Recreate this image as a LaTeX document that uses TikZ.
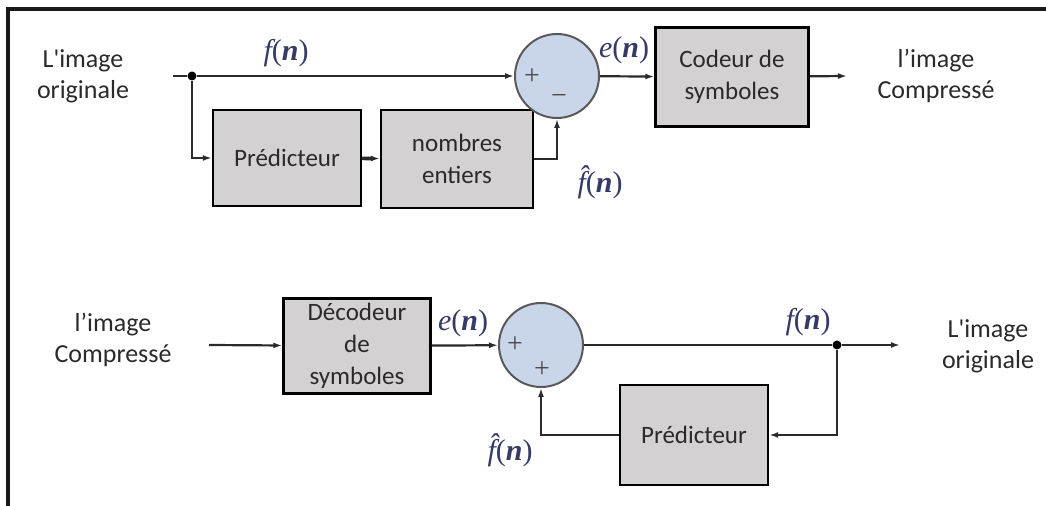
\documentclass[tikz,border=0pt]{standalone}
\usepackage{fontspec}
\setmainfont{Carlito}[Ligatures=TeXOff]
\newfontfamily\sigfont{Liberation Serif}
\usepackage{tikz}
\usetikzlibrary{arrows.meta}

\definecolor{boxgray}{HTML}{D3D1D1}
\definecolor{sumblue}{HTML}{C9D6E9}
\definecolor{sigblue}{HTML}{353B66}
\definecolor{inkgray}{HTML}{2A2A2A}

% signal names in serif italic
\newcommand{\sig}[1]{{\sigfont\fontsize{15}{15}\selectfont\color{sigblue}\itshape #1}}
\newcommand{\sigarg}{\sig{\upshape(}\sig{\bfseries n}\sig{\upshape)}}

\begin{document}
\begin{tikzpicture}[x=0.5pt, y=-0.5pt,
		every node/.append style={font=\fontsize{12.5}{15.5}\selectfont, text=inkgray}]
	\useasboundingbox (0,0) rectangle (1046,506);
	% page frame
	\draw[line width=1.6pt, black!90] (8,506) -- (8,9) -- (1046,9);

	\begin{scope}[every node/.style = {rectangle, draw=black, line width=1.2pt, fill=boxgray,
			align=center, inner sep=1pt, text=inkgray,
			font=\fontsize{12.5}{16}\selectfont}]
		\node[minimum width=74pt, minimum height=48pt] (predA) at (287,158) {Prédicteur};
		\node[minimum width=76pt, minimum height=49pt] (roundA) at (457,159) {nombres\\entiers};
		\node[minimum width=76.5pt, minimum height=49.5pt] (coder) at (732,77) {Codeur de\\symboles};
		\node[minimum width=73.5pt, minimum height=47.5pt] (decoder) at (357,346) {Décodeur\\de\\symboles};
		\node[minimum width=74pt, minimum height=50pt] (predB) at (694,435) {Prédicteur};
	\end{scope}

	\begin{scope}[every node/.style = {circle, draw=black!65, line width=1pt,
			fill=sumblue, minimum size=42pt, inner sep=0pt}]
		\node (sumA) at (557,76) {};
		\node (sumB) at (541,345) {};
	\end{scope}

	% signs inside the adders
	\begin{scope}[every node/.style = {inner sep=0pt, text=black!70,
			font=\sigfont\fontsize{14}{14}\selectfont}]
		\node (plusA) at (532,77) {+};
		\node (minusA) at (559,100) {−};
		\node (plusB) at (515,345) {+};
		\node (plusC) at (542,370) {+};
	\end{scope}

	% junctions and free ends
	\begin{scope}[every node/.style = {circle, fill=black, inner sep=0pt, minimum size=4.5pt}]
		\node (splitA) at (192,76) {};
		\node (splitB) at (837,345) {};
	\end{scope}
	\coordinate (startA) at (173,76);
	\coordinate (endA) at (847,76);
	\coordinate (startB) at (209,345);
	\coordinate (endB) at (900,345);

	% texts
	\begin{scope}[every node/.style = {align=center, text=inkgray,
			font=\fontsize{13}{15.5}\selectfont}]
		\node (inA) at (83,76) {L'image\\originale};
		\node (outA) at (936,76) {l’image\\Compressé};
		\node (inB) at (113,340) {l’image\\Compressé};
		\node (outB) at (988,346) {L'image\\originale};
	\end{scope}
	\begin{scope}[every node/.style = {inner sep=0pt}]
		\node (fA) at (286,53) {\sig{f}\sigarg};
		\node (eA) at (624,50) {\sig{e}\sigarg};
		\node (fhatA) at (600,182) {\sig{\^{f}}\sigarg};
		\node (eB) at (463,323) {\sig{e}\sigarg};
		\node (fB) at (808,322) {\sig{f}\sigarg};
		\node (fhatB) at (510,450) {\sig{\^{f}}\sigarg};
	\end{scope}

	\begin{scope}[>={Latex[length=4.5pt, width=3pt]},
			every edge/.style={draw=inkgray, line width=1.1pt}]
		% coder
		\path [-] (startA) edge (splitA);
		\path [->] (splitA) edge (sumA);
		\path [->] (splitA) edge[to path={|- (\tikztotarget)}] (predA);
		\path [->] (predA) edge[line width=1.8pt] (roundA);
		\path [->] (roundA) edge[to path={-| (\tikztotarget)}] (sumA);
		\path [->] (sumA) edge (coder);
		\path [->] (coder) edge (endA);
		% decoder
		\path [->] (startB) edge (decoder);
		\path [->] (decoder) edge (sumB);
		\path [-] (sumB) edge (splitB);
		\path [->] (splitB) edge (endB);
		\path [->] (splitB) edge[to path={|- (\tikztotarget)}] (predB);
		\path [->] (predB) edge[to path={-| (\tikztotarget)}] (sumB);
	\end{scope}
\end{tikzpicture}
\end{document}
